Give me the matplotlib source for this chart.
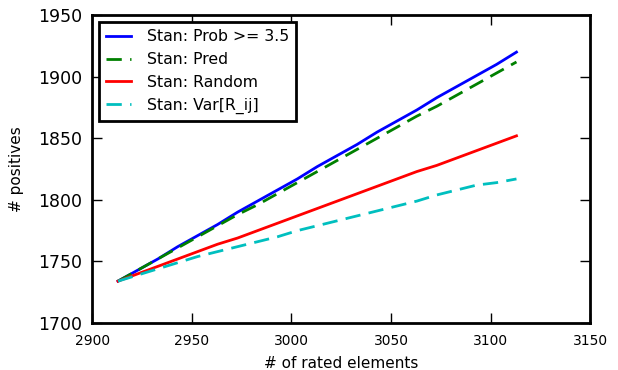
import matplotlib
matplotlib.use("Agg")
import matplotlib.pyplot as plt

# number of rated elements
n_rated = [2913, 2923, 2933, 2943, 2953, 2963, 2973, 2983, 2993, 3003, 3013,
           3023, 3033, 3043, 3053, 3063, 3073, 3083, 3093, 3103, 3113]

prob_35 = [1734, 1743, 1752, 1762, 1771, 1780, 1790, 1799, 1808, 1817, 1827,
           1836, 1845, 1855, 1864, 1873, 1883, 1892, 1901, 1910, 1920]
pred = [1734, 1743, 1752, 1761, 1770, 1779, 1788, 1796, 1805, 1814, 1823,
        1832, 1841, 1850, 1859, 1868, 1876, 1885, 1894, 1903, 1912]
rand = [1734, 1740, 1746, 1752, 1758, 1764, 1769, 1775, 1781, 1787, 1793,
        1799, 1805, 1811, 1817, 1823, 1828, 1834, 1840, 1846, 1852]
var_rij = [1734, 1739, 1744, 1749, 1754, 1758, 1762, 1766, 1770, 1775, 1779,
           1783, 1787, 1791, 1795, 1799, 1804, 1808, 1812, 1814, 1817]

fig = plt.figure(figsize=(6.18, 3.70), dpi=100)
ax = fig.add_axes([0.149, 0.127, 0.806, 0.832])

ax.plot(n_rated, prob_35, color="b", lw=2, label="Stan: Prob >= 3.5")
ax.plot(n_rated, pred, color="g", lw=2, dashes=(5.5, 3), label="Stan: Pred")
ax.plot(n_rated, rand, color="r", lw=2, label="Stan: Random")
ax.plot(n_rated, var_rij, color="c", lw=2, dashes=(5.5, 3), label="Stan: Var[R_ij]")

ax.set_xlim(2900, 3150)
ax.set_ylim(1700, 1950)
ax.set_xticks([2900, 2950, 3000, 3050, 3100, 3150])
ax.set_yticks([1700, 1750, 1800, 1850, 1900, 1950])
ax.tick_params(direction="in", top=True, right=True, length=7, width=1)
ax.tick_params(axis="x", labelsize=10, pad=8)
ax.tick_params(axis="y", labelsize=12.5, pad=7)
for s in ax.spines.values():
    s.set_linewidth(2)

ax.set_xlabel("# of rated elements", fontsize=11, labelpad=6)
ax.set_ylabel("# positives", fontsize=11, labelpad=10)

leg = ax.legend(loc="upper left", fontsize=11.3, fancybox=False, framealpha=1,
                handlelength=1.55, handletextpad=1.05, borderaxespad=0.45,
                borderpad=0.45)
leg.get_frame().set_edgecolor("black")
leg.get_frame().set_linewidth(2)

fig.savefig("out.png", dpi=100)
